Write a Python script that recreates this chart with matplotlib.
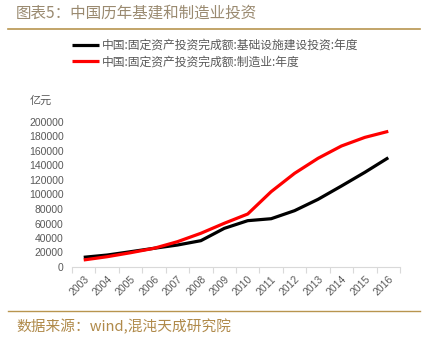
import matplotlib
matplotlib.use("Agg")
import matplotlib.pyplot as plt
from matplotlib.lines import Line2D

plt.rcParams['font.family'] = ['Noto Sans CJK SC', 'DejaVu Sans']

years = ['2003', '2004', '2005', '2006', '2007', '2008', '2009', '2010',
         '2011', '2012', '2013', '2014', '2015', '2016']
infra = [13400, 16500, 21100, 25800, 30300, 36300, 53300, 63900,
         66600, 77700, 93300, 111700, 130600, 150700]
manuf = [9700, 14200, 19700, 25800, 34900, 46500, 60300, 73100,
         103900, 129200, 149900, 166900, 178800, 187100]
yticks = [0, 20000, 40000, 60000, 80000, 100000, 120000, 140000,
          160000, 180000, 200000]
label_infra = '中国:固定资产投资完成额:基础设施建设投资:年度'
label_manuf = '中国:固定资产投资完成额:制造业:年度'
title = '图表5：中国历年基建和制造业投资'
source = '数据来源：wind,混沌天成研究院'
unit = '亿元'

W, H = 428, 342
fig = plt.figure(figsize=(W / 100, H / 100), dpi=100)
ax = fig.add_axes([72 / W, 1 - 267 / H, (400 - 72) / W, (267 - 122) / H])

x = list(range(len(years)))
l1, = ax.plot(x, infra, color='#000000', lw=2.3, solid_capstyle='butt')
l2, = ax.plot(x, manuf, color='#ff0000', lw=2.3, solid_capstyle='butt')

ax.set_xlim(-0.5, len(years) - 0.5)
ax.set_ylim(0, 200000)
ax.set_yticks(yticks)
ax.set_yticklabels([str(v) for v in yticks], fontfamily='Liberation Sans',
                   fontsize=7.5, color='#595959')
ax.tick_params(axis='y', length=0, pad=6)

ax.set_xticks(x)
ax.set_xticklabels(years, rotation=45, ha='right', rotation_mode='anchor',
                   fontfamily='Liberation Sans', fontsize=7.5, color='#595959')
ax.tick_params(axis='x', which='major', length=0, pad=5)
ax.set_xticks([i - 0.5 for i in range(len(years) + 1)], minor=True)
ax.tick_params(axis='x', which='minor', length=4, color='#d9d9d9', width=0.8)

for s in ['top', 'right', 'left']:
    ax.spines[s].set_visible(False)
ax.spines['bottom'].set_color('#d9d9d9')
ax.spines['bottom'].set_linewidth(0.8)

fig.legend([l1, l2], [label_infra, label_manuf], loc='upper left',
           bbox_to_anchor=(72 / W, 1 - 39 / H), bbox_transform=fig.transFigure,
           frameon=False, fontsize=8.5, handlelength=2.3, handletextpad=0.2,
           labelspacing=0.3, borderpad=0, borderaxespad=0,
           labelcolor='#595959')

gold = '#b8954f'
fig.add_artist(Line2D([8 / W, 420 / W], [1 - 29 / H, 1 - 29 / H],
                      color=gold, lw=1.2, transform=fig.transFigure))
fig.add_artist(Line2D([8 / W, 420 / W], [1 - 311 / H, 1 - 311 / H],
                      color=gold, lw=1.0, transform=fig.transFigure))

fig.text(16 / W, 1 - 13 / H, title, fontsize=11.2, color='#9a8a70',
         va='center', ha='left')
fig.text(16 / W, 1 - 327 / H, source, fontsize=10.6, color='#b08a4a',
         va='center', ha='left')
fig.text(30 / W, 1 - 101 / H, unit, fontsize=8, color='#595959',
         va='center', ha='left')

fig.savefig('out.png', dpi=100)
